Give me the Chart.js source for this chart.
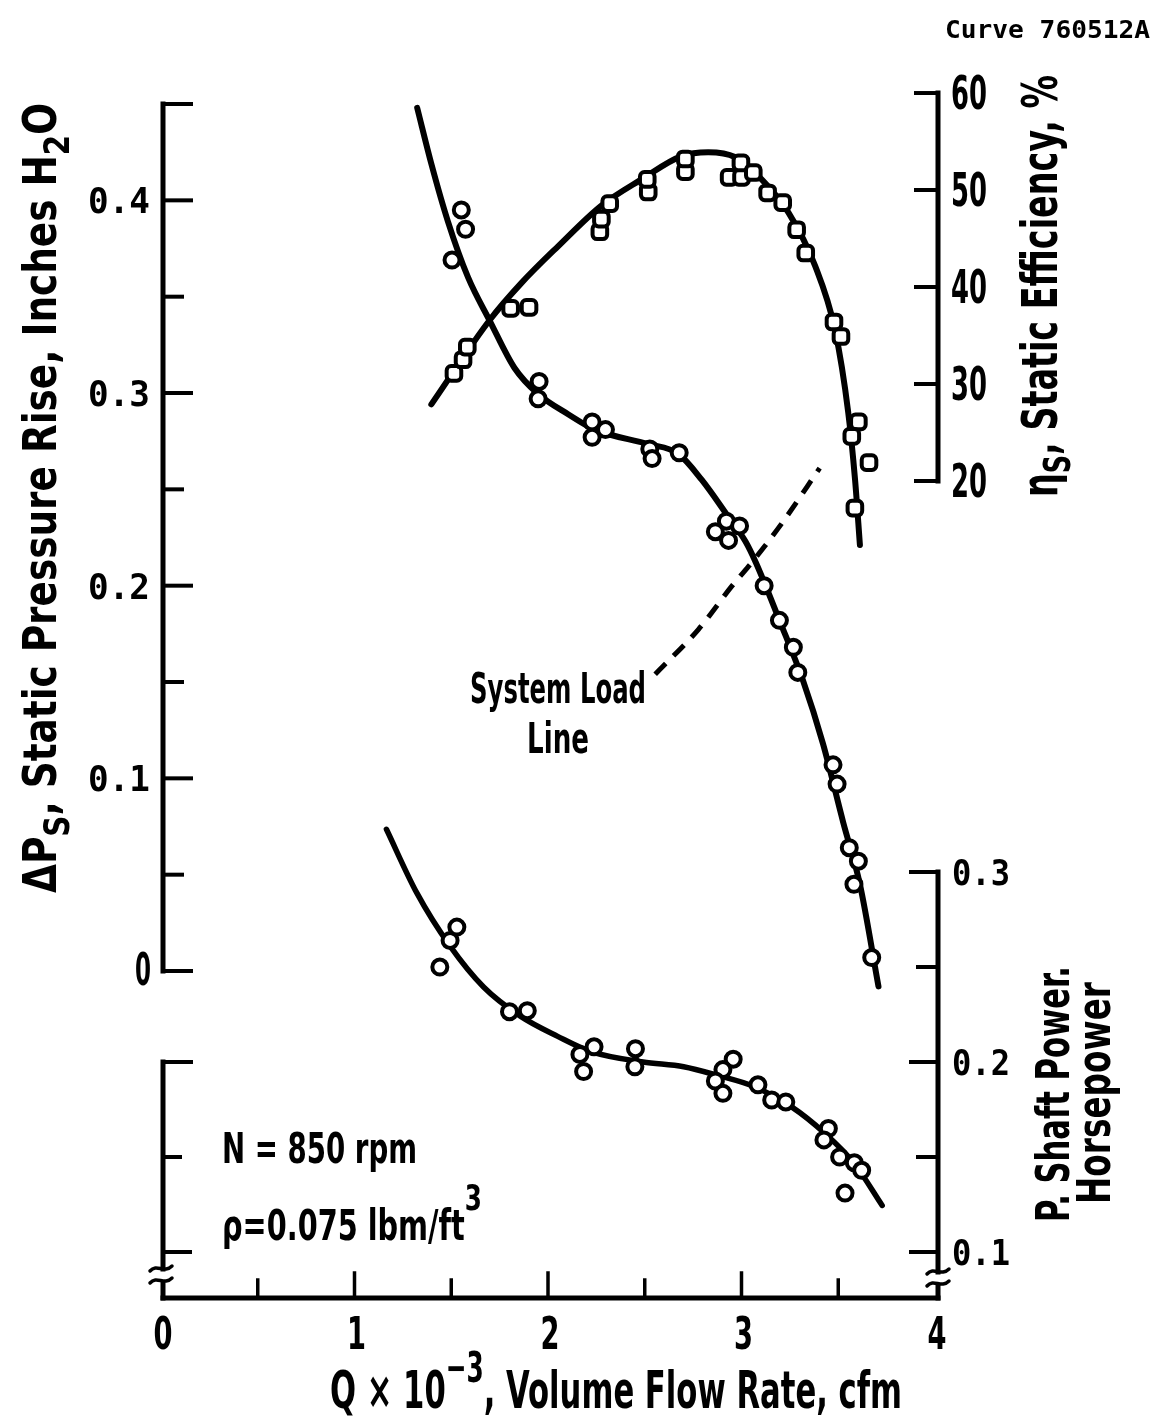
<!DOCTYPE html>
<html>
<head>
<meta charset="utf-8">
<script src="https://cdn.jsdelivr.net/npm/chart.js@4.4.0/dist/chart.umd.min.js"></script>
<style>
  html, body { margin: 0; padding: 0; background: #fff; }
  #wrap { width: 1162px; height: 1424px; position: relative; }
</style>
</head>
<body>
<div id="wrap"><canvas id="c" width="1162" height="1424"></canvas></div>
<script>
// ---------------- DATA ----------------
// Volume flow rate Q x 10^-3 (cfm)
const xTicks = [0, 0.5, 1, 1.5, 2, 2.5, 3, 3.5, 4];
const xTickLabels = ['0', '1', '2', '3', '4'];          // at 0,1,2,3,4

// Static pressure rise, inches H2O
const dpTicks = [0, 0.05, 0.1, 0.15, 0.2, 0.25, 0.3, 0.35, 0.4, 0.45];
const dpTickLabels = ['0', '0.1', '0.2', '0.3', '0.4']; // at 0 .. 0.4

// Static efficiency, %
const effTicks = [20, 30, 40, 50, 60];
const effTickLabels = ['20', '30', '40', '50', '60'];

// Shaft power, horsepower
const pwTicks = [0.1, 0.15, 0.2, 0.25, 0.3];
const pwTickLabels = ['0.1', '0.2', '0.3'];             // at 0.1, 0.2, 0.3

// Measured static pressure rise (circles)
const dpQ   = [1.504, 1.552, 1.574, 1.954, 1.949, 2.228, 2.297, 2.228, 2.526, 2.538, 2.678,
               2.865, 2.922, 2.990, 2.933, 3.117, 3.196, 3.268, 3.291, 3.473, 3.494, 3.557, 3.604, 3.581, 3.673];
const dpVal = [0.369, 0.395, 0.385, 0.306, 0.297, 0.285, 0.281, 0.277, 0.271, 0.266, 0.269,
               0.228, 0.2335, 0.231, 0.2235, 0.200, 0.182, 0.168, 0.155, 0.107, 0.097, 0.064, 0.057, 0.045, 0.007];
// Faired pressure curve
const dpCurveQ   = [1.324, 1.397, 1.483, 1.587, 1.699, 1.827, 1.949, 2.104, 2.242, 2.518, 2.673, 2.794,
                    2.930, 3.020, 3.074, 3.196, 3.317, 3.421, 3.526, 3.612, 3.708];
const dpCurveVal = [0.448, 0.419, 0.389, 0.360, 0.3375, 0.313, 0.2995, 0.289, 0.281, 0.2735, 0.2685, 0.255,
                    0.236, 0.223, 0.212, 0.182, 0.151, 0.118, 0.077, 0.045, -0.008];

// Measured static efficiency (squares)
const effQ   = [1.514, 1.561, 1.583, 1.807, 1.902, 2.268, 2.276, 2.319, 2.518, 2.513, 2.710, 2.710, 2.936,
                3.000, 2.997, 3.061, 3.135, 3.213, 3.285, 3.332, 3.478, 3.514, 3.604, 3.570, 3.659, 3.586];
const effVal = [31.1, 32.5, 33.8, 37.8, 37.9, 45.7, 47.0, 48.6, 49.8, 51.1, 51.9, 53.2, 51.3,
                51.3, 52.8, 51.8, 49.7, 48.7, 45.9, 43.5, 36.4, 34.9, 26.1, 24.6, 21.9, 17.2];
// Faired efficiency curve
const effCurveQ   = [1.397, 1.699, 1.862, 2.052, 2.276, 2.483, 2.690, 2.828, 2.966, 3.104, 3.242, 3.380, 3.483, 3.552, 3.587, 3.612];
const effCurveVal = [27.9, 36.6, 40.4, 44.2, 48.4, 51.1, 53.5, 53.9, 53.4, 51.1, 47.7, 42.2, 35.6, 27.0, 20.1, 13.4];

// Measured shaft power (circles)
const pwQ   = [1.441, 1.494, 1.529, 1.801, 1.893, 2.165, 2.238, 2.184, 2.452, 2.449, 2.957, 2.904,
               2.865, 2.904, 3.085, 3.156, 3.229, 3.449, 3.426, 3.507, 3.583, 3.621, 3.535];
const pwVal = [0.250, 0.264, 0.271, 0.2265, 0.227, 0.204, 0.208, 0.195, 0.207, 0.1975, 0.2015, 0.196,
               0.190, 0.1835, 0.188, 0.180, 0.179, 0.165, 0.159, 0.150, 0.147, 0.143, 0.131];
// Faired power curve
const pwCurveQ   = [1.165, 1.322, 1.494, 1.667, 1.859, 2.050, 2.222, 2.491, 2.701, 2.874, 3.066, 3.257, 3.430, 3.583, 3.727];
const pwCurveVal = [0.3225, 0.289, 0.261, 0.2395, 0.224, 0.2135, 0.2055, 0.200, 0.1975, 0.193, 0.187, 0.1765, 0.1625, 0.1465, 0.1245];

// System load line (dashed)
const loadQ   = [2.554, 2.779, 2.952, 3.065, 3.213, 3.404];
const loadVal = [0.154, 0.1775, 0.200, 0.2135, 0.233, 0.261];

// ---------------- helpers ----------------
const zip = (xs, ys) => xs.map((x, i) => ({ x: x, y: ys[i] }));
const NARROW = "'Liberation Sans Narrow', 'DejaVu Sans Condensed', 'Open Sans', sans-serif";
const MONO = "'DejaVu Sans Mono', 'Liberation Mono', monospace";

// draw a run of text parts; optional target width compresses/expands horizontally
function rich(ctx, parts, o) {
  ctx.save();
  let W = 0;
  const widths = parts.map(p => {
    ctx.font = (p.weight || 'bold') + ' ' + p.size + 'px ' + (p.family || NARROW);
    const w = ctx.measureText(p.t).width;
    W += w;
    return w;
  });
  const sx = o.width ? o.width / W : 1;
  ctx.translate(o.x, o.y);
  if (o.rot) ctx.rotate(o.rot);
  ctx.scale(sx, 1);
  let cx = o.align === 'center' ? -W / 2 : (o.align === 'right' ? -W : 0);
  ctx.fillStyle = '#000';
  ctx.textBaseline = 'alphabetic';
  ctx.textAlign = 'left';
  parts.forEach((p, i) => {
    ctx.font = (p.weight || 'bold') + ' ' + p.size + 'px ' + (p.family || NARROW);
    ctx.fillText(p.t, cx, p.dy || 0);
    cx += widths[i];
  });
  ctx.restore();
}

function seg(ctx, x1, y1, x2, y2) {
  ctx.beginPath(); ctx.moveTo(x1, y1); ctx.lineTo(x2, y2); ctx.stroke();
}

function breakMark(ctx, x, y) {
  ctx.save();
  ctx.lineWidth = 3.5;
  ctx.lineCap = 'round';
  [-6, 6].forEach(d => {
    ctx.beginPath();
    ctx.moveTo(x - 11, y + d + 2);
    ctx.bezierCurveTo(x - 4, y + d - 6, x + 3, y + d + 5, x + 11, y + d - 3);
    ctx.stroke();
  });
  ctx.restore();
}

const axesPlugin = {
  id: 'axesPlugin',
  beforeDraw(chart) {
    const ctx = chart.ctx;
    ctx.save();
    ctx.fillStyle = '#fff';
    ctx.fillRect(0, 0, chart.width, chart.height);
    ctx.restore();
  },
  afterDraw(chart) {
    const ctx = chart.ctx;
    const s = chart.scales;
    const X = v => s.x.getPixelForValue(v);
    const YP = v => s.yP.getPixelForValue(v);
    const YE = v => s.yE.getPixelForValue(v);
    const YW = v => s.yW.getPixelForValue(v);
    const bottom = chart.chartArea.bottom;
    const xl = X(0) + 2, xr = X(4) + 3;
    ctx.save();
    ctx.strokeStyle = '#000';
    ctx.lineCap = 'square';

    // ---- left: pressure axis ----
    ctx.lineWidth = 5;
    seg(ctx, xl, YP(dpTicks[dpTicks.length - 1]), xl, YP(dpTicks[0]));
    ctx.lineWidth = 4;
    dpTicks.forEach((v, i) => {
      const major = i % 2 === 0 || i === dpTicks.length - 1;
      seg(ctx, xl, YP(v), xl + (major ? 28 : 19), YP(v));
    });
    dpTickLabels.forEach((t, i) => {
      const v = i * 0.1, y = YP(v);
      if (i === 0) rich(ctx, [{ t: t, size: 44 }], { x: xl - 20, y: y + 14, align: 'center', width: 16 });
      else rich(ctx, [{ t: t, size: 35, family: MONO }], { x: xl - 13, y: y + 13, align: 'right', width: 62 });
    });

    // ---- left lower bracket (power scale, unlabelled) ----
    const brL = 1275;
    ctx.lineWidth = 5;
    seg(ctx, xl, YW(0.2), xl, brL - 6);
    seg(ctx, xl, brL + 8, xl, bottom);
    ctx.lineWidth = 4;
    seg(ctx, xl, YW(0.2), xl + 28, YW(0.2));
    seg(ctx, xl, YW(0.15), xl + 17, YW(0.15));
    seg(ctx, xl, YW(0.1), xl + 27, YW(0.1));
    breakMark(ctx, xl - 2, brL);

    // ---- bottom axis ----
    ctx.lineWidth = 5;
    seg(ctx, xl, bottom, xr, bottom);
    ctx.lineWidth = 3.5;
    xTicks.forEach(v => {
      if (v === 0 || v === 4) return;
      seg(ctx, X(v), bottom, X(v), bottom - (v % 1 === 0 ? 25 : 18));
    });
    xTickLabels.forEach((t, i) => {
      rich(ctx, [{ t: t, size: 44 }], { x: X(i) + 2, y: bottom + 51, align: 'center', width: 19 });
    });

    // ---- right: efficiency axis ----
    ctx.lineWidth = 5;
    seg(ctx, xr, YE(60), xr, YE(20));
    ctx.lineWidth = 4;
    effTicks.forEach(v => seg(ctx, xr, YE(v), xr - 22, YE(v)));
    effTickLabels.forEach((t, i) => {
      rich(ctx, [{ t: t, size: 46 }], { x: xr + 13, y: YE(effTicks[i]) + 16, width: 36 });
    });

    // ---- right: power axis ----
    const brR = 1278;
    ctx.lineWidth = 5;
    seg(ctx, xr, YW(0.3), xr, brR - 6);
    seg(ctx, xr, brR + 8, xr, bottom);
    ctx.lineWidth = 4;
    pwTicks.forEach((v, i) => seg(ctx, xr, YW(v), xr - (i % 2 === 0 ? 27 : 20), YW(v)));
    pwTickLabels.forEach((t, i) => {
      rich(ctx, [{ t: t, size: 35, family: MONO }], { x: xr + 14, y: YW(0.1 + i * 0.1) + 13, width: 58 });
    });
    breakMark(ctx, xr, brR);

    // ---- axis titles ----
    rich(ctx, [
      { t: 'ΔP', size: 46 }, { t: 'S', size: 36, dy: 13 },
      { t: ', Static Pressure Rise, Inches H', size: 46 }, { t: '2', size: 36, dy: 13 }, { t: 'O', size: 46 }
    ], { x: 56, y: 893, rot: -Math.PI / 2, width: 790 });

    rich(ctx, [
      { t: 'η', size: 50 }, { t: 'S', size: 38, dy: 13 }, { t: ', Static Efficiency, %', size: 50 }
    ], { x: 1057, y: 497, rot: -Math.PI / 2, width: 422 });

    rich(ctx, [{ t: 'P. Shaft Power.', size: 46 }], { x: 1069, y: 1222, rot: -Math.PI / 2, width: 256 });
    rich(ctx, [{ t: 'Horsepower', size: 46 }], { x: 1110, y: 1204, rot: -Math.PI / 2, width: 222 });

    rich(ctx, [
      { t: 'Q × 10', size: 52 }, { t: '−3', size: 42, dy: -26 }, { t: ', Volume Flow Rate, cfm', size: 52 }
    ], { x: 330, y: 1408, width: 572 });

    // ---- annotations ----
    rich(ctx, [{ t: 'Curve 760512A', size: 25, family: MONO, weight: 'bold' }], { x: 945, y: 38, width: 205 });
    rich(ctx, [{ t: 'System Load', size: 42 }], { x: 558, y: 703, align: 'center', width: 176 });
    rich(ctx, [{ t: 'Line', size: 42 }], { x: 558, y: 753, align: 'center', width: 62 });
    rich(ctx, [{ t: 'N = 850 rpm', size: 42 }], { x: 222, y: 1163, width: 195 });
    rich(ctx, [{ t: 'ρ=0.075 lbm/ft', size: 42 }, { t: '3', size: 36, dy: -30 }], { x: 222, y: 1240, width: 260 });

    ctx.restore();
  }
};

const lineStyle = {
  showLine: true, pointRadius: 0, pointHoverRadius: 0, borderColor: '#000', fill: false,
  cubicInterpolationMode: 'monotone', borderCapStyle: 'round', borderJoinStyle: 'round'
};
const markerStyle = {
  showLine: false, borderColor: '#000', backgroundColor: '#fff', pointBorderWidth: 4, pointHoverRadius: 8
};

new Chart(document.getElementById('c'), {
  type: 'scatter',
  data: {
    datasets: [
      Object.assign({ label: 'ΔP measured', data: zip(dpQ, dpVal), yAxisID: 'yP', pointStyle: 'circle', pointRadius: 7.5, order: 0 }, markerStyle),
      Object.assign({ label: 'η measured', data: zip(effQ, effVal), yAxisID: 'yE', pointStyle: 'rectRounded', pointRadius: 8.5, order: 0 }, markerStyle),
      Object.assign({ label: 'P measured', data: zip(pwQ, pwVal), yAxisID: 'yW', pointStyle: 'circle', pointRadius: 7.5, order: 0 }, markerStyle),
      Object.assign({ label: 'ΔP curve', data: zip(dpCurveQ, dpCurveVal), yAxisID: 'yP', borderWidth: 6, order: 1 }, lineStyle),
      Object.assign({ label: 'η curve', data: zip(effCurveQ, effCurveVal), yAxisID: 'yE', borderWidth: 6, order: 1 }, lineStyle),
      Object.assign({ label: 'P curve', data: zip(pwCurveQ, pwCurveVal), yAxisID: 'yW', borderWidth: 5.5, order: 1 }, lineStyle),
      Object.assign({ label: 'System load line', data: zip(loadQ, loadVal), yAxisID: 'yP', borderWidth: 5, borderDash: [15, 11], order: 1 }, lineStyle, { borderCapStyle: 'butt' })
    ]
  },
  options: {
    responsive: false,
    animation: false,
    devicePixelRatio: 1,
    layout: { padding: { left: 161, right: 227, top: 94, bottom: 126 } },
    plugins: { legend: { display: false }, tooltip: { enabled: false } },
    scales: {
      x:  { type: 'linear', min: 0, max: 4, display: false },
      yP: { type: 'linear', position: 'left', min: -0.16972, max: 0.4552, display: false },
      yE: { type: 'linear', position: 'right', min: -64.23, max: 59.9, display: false },
      yW: { type: 'linear', position: 'right', min: 0.07579, max: 0.7095, display: false }
    }
  },
  plugins: [axesPlugin]
});
</script>
</body>
</html>
